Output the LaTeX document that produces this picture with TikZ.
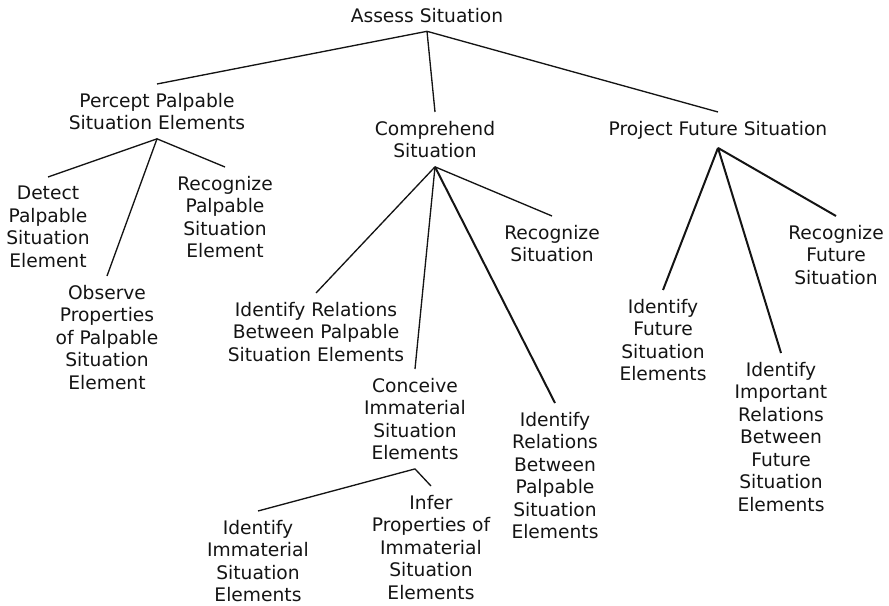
\documentclass[tikz,border=0pt]{standalone}
\usepackage{fontspec}
\setmainfont{DejaVu Sans}
\definecolor{ink}{HTML}{141414}
\tikzset{
  task/.style={align=center, anchor=north, inner xsep=0pt, inner ysep=6.5pt,
    text=ink, font=\fontsize{14}{16.9}\selectfont},
  link/.style={draw=ink, line width=1pt},
  boldlink/.style={draw=ink, line width=1.5pt}
}
\begin{document}
\begin{tikzpicture}[x=0.75pt,y=-0.75pt]
\useasboundingbox (0,0) rectangle (889,606);

\node[task] (assess) at (427,-1) {Assess Situation};

\node[task] (percept) at (157,84) {Percept Palpable\\Situation Elements};
\node[task] (comprehend) at (435,112) {Comprehend\\Situation};
\node[task] (project) at (718,112) {Project Future Situation};

\node[task] (detect) at (48,177) {Detect\\Palpable\\Situation\\Element};
\node[task] (observe) at (107,276) {Observe\\Properties\\of Palpable\\Situation\\Element};
\node[task] (recogpal) at (225,167) {Recognize\\Palpable\\Situation\\Element};

\node[task] (idrel) at (316,293) {Identify Relations\\Between Palpable\\Situation Elements};
\node[task] (conceive) at (415,369) {Conceive\\Immaterial\\Situation\\Elements};
\node[task] (idrelpal) at (555,403) {Identify\\Relations\\Between\\Palpable\\Situation\\Elements};
\node[task] (recogsit) at (552,216) {Recognize\\Situation};

\node[task] (idimm) at (258,511) {Identify\\Immaterial\\Situation\\Elements};
\node[task] (infer) at (431,486) {Infer\\Properties of\\Immaterial\\Situation\\Elements};

\node[task] (idfut) at (663,290) {Identify\\Future\\Situation\\Elements};
\node[task] (idimp) at (781,353) {Identify\\Important\\Relations\\Between\\Future\\Situation\\Elements};
\node[task] (recogfut) at (836,216) {Recognize\\Future\\Situation};

\foreach \a/\b in {assess/percept,assess/comprehend,assess/project,
  percept/detect,percept/observe,percept/recogpal,
  comprehend/idrel,comprehend/conceive,comprehend/recogsit,
  conceive/idimm,conceive/infer}
  \draw[link] (\a.south) -- (\b.north);

\foreach \a/\b in {comprehend/idrelpal,project/idfut,project/idimp,project/recogfut}
  \draw[boldlink] (\a.south) -- (\b.north);

\end{tikzpicture}
\end{document}
